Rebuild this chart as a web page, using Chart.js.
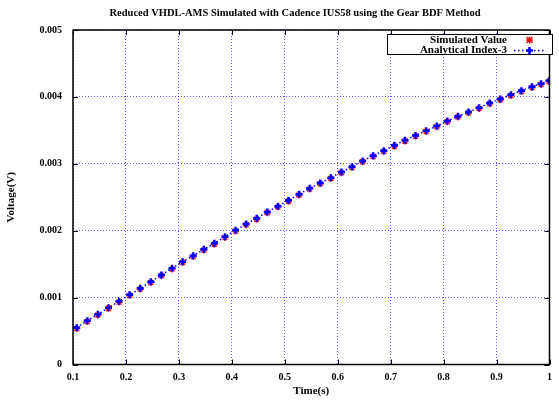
<!DOCTYPE html>
<html>
<head>
<meta charset="utf-8">
<script src="https://cdn.jsdelivr.net/npm/chart.js@4.4.0/dist/chart.umd.min.js"></script>
<style>
  html, body { margin: 0; padding: 0; background: #fff; }
  #wrap { width: 559px; height: 400px; }
</style>
</head>
<body>
<div id="wrap"><canvas id="voltageChart" width="559" height="400"></canvas></div>
<script>
// Data
const timeValues = [
  0.107, 0.127, 0.147, 0.167, 0.187, 0.207, 0.227, 0.247, 0.267, 0.287,
  0.307, 0.327, 0.347, 0.367, 0.387, 0.407, 0.427, 0.447, 0.467, 0.487,
  0.507, 0.527, 0.547, 0.567, 0.587, 0.607, 0.627, 0.647, 0.667, 0.687,
  0.707, 0.727, 0.747, 0.767, 0.787, 0.807, 0.827, 0.847, 0.867, 0.887,
  0.907, 0.927, 0.947, 0.967, 0.984, 0.999
];
const analyticalValues = [
  0.000550, 0.000655, 0.000750, 0.000849, 0.000945, 0.001043, 0.001139, 0.001238, 0.001338, 0.001438,
  0.001537, 0.001626, 0.001722, 0.001811, 0.001910, 0.002006, 0.002100, 0.002185, 0.002280, 0.002365,
  0.002454, 0.002544, 0.002634, 0.002713, 0.002793, 0.002877, 0.002957, 0.003042, 0.003121, 0.003196,
  0.003276, 0.003351, 0.003424, 0.003495, 0.003565, 0.003640, 0.003710, 0.003774, 0.003839, 0.003909,
  0.003969, 0.004033, 0.004093, 0.004153, 0.004197, 0.004242
];
const simulatedValues = [
  0.000538, 0.000643, 0.000739, 0.000837, 0.000933, 0.001031, 0.001127, 0.001226, 0.001326, 0.001426,
  0.001525, 0.001614, 0.001710, 0.001799, 0.001898, 0.001994, 0.002088, 0.002173, 0.002268, 0.002353,
  0.002442, 0.002532, 0.002622, 0.002701, 0.002781, 0.002865, 0.002945, 0.003030, 0.003109, 0.003184,
  0.003264, 0.003339, 0.003412, 0.003483, 0.003553, 0.003628, 0.003698, 0.003762, 0.003827, 0.003897,
  0.003957, 0.004021, 0.004081, 0.004141, 0.004185, 0.004230
];
const xTicks = [0.1, 0.2, 0.3, 0.4, 0.5, 0.6, 0.7, 0.8, 0.9, 1.0];
const xTickLabels = ['0.1', '0.2', '0.3', '0.4', '0.5', '0.6', '0.7', '0.8', '0.9', '1'];
const yTicks = [0, 0.001, 0.002, 0.003, 0.004, 0.005];
const yTickLabels = ['0', '0.001', '0.002', '0.003', '0.004', '0.005'];
const seriesNames = ['Simulated Value', 'Analytical Index-3'];
const titleText = 'Reduced VHDL-AMS Simulated with Cadence IUS58 using the Gear BDF Method';

const FONT = '"Liberation Serif", "Times New Roman", serif';
const GRID_BLUE = '#5a5aff';

// Frame, inward ticks, title and legend drawn in gnuplot style
const gnuplotDecor = {
    id: 'gnuplotDecor',
    afterDatasetsDraw(chart) {
        const { ctx, chartArea: a, scales } = chart;
        ctx.save();

        // inward tick marks on all four sides
        ctx.strokeStyle = '#000';
        ctx.lineWidth = 1;
        ctx.beginPath();
        xTicks.forEach(v => {
            const px = Math.round(scales.x.getPixelForValue(v)) + 0.5;
            ctx.moveTo(px, a.bottom); ctx.lineTo(px, a.bottom - 5);
            ctx.moveTo(px, a.top); ctx.lineTo(px, a.top + 5);
        });
        yTicks.forEach(v => {
            const py = Math.round(scales.y.getPixelForValue(v)) + 0.5;
            ctx.moveTo(a.left, py); ctx.lineTo(a.left + 5, py);
            ctx.moveTo(a.right, py); ctx.lineTo(a.right - 5, py);
        });
        ctx.stroke();

        // frame
        ctx.lineWidth = 1.5;
        ctx.strokeRect(a.left, a.top, a.right - a.left, a.bottom - a.top);

        // legend box
        ctx.fillStyle = '#fff';
        ctx.fillRect(387, 34, 166, 21);
        ctx.lineWidth = 1;
        ctx.strokeStyle = '#000';
        ctx.strokeRect(387.5, 34.5, 165, 20);

        ctx.fillStyle = '#000';
        ctx.font = 'bold 11px ' + FONT;
        ctx.textAlign = 'right';
        ctx.textBaseline = 'middle';
        ctx.fillText(seriesNames[0], 507, 40);
        ctx.fillText(seriesNames[1], 507, 50);

        // legend sample: red star
        ctx.strokeStyle = '#ff0000';
        ctx.lineWidth = 1.5;
        ctx.beginPath();
        ctx.moveTo(526.5, 37); ctx.lineTo(532.5, 43);
        ctx.moveTo(532.5, 37); ctx.lineTo(526.5, 43);
        ctx.moveTo(529.5, 36.5); ctx.lineTo(529.5, 43.5);
        ctx.moveTo(526, 40); ctx.lineTo(533, 40);
        ctx.stroke();

        // legend sample: blue dotted line with plus
        ctx.strokeStyle = '#0000ff';
        ctx.lineWidth = 1.5;
        ctx.setLineDash([1.5, 2.5]);
        ctx.beginPath();
        ctx.moveTo(514, 50.5); ctx.lineTo(544, 50.5);
        ctx.stroke();
        ctx.setLineDash([]);
        ctx.lineWidth = 2.5;
        ctx.beginPath();
        ctx.moveTo(529.5, 47); ctx.lineTo(529.5, 54);
        ctx.moveTo(526, 50.5); ctx.lineTo(533, 50.5);
        ctx.stroke();

        // title
        ctx.fillStyle = '#000';
        ctx.font = 'bold 10.5px ' + FONT;
        ctx.textAlign = 'center';
        ctx.fillText(titleText, 295, 13);

        ctx.restore();
    }
};

function createVoltageChart() {
    const ctx = document.getElementById('voltageChart').getContext('2d');

    const simulatedPoints = timeValues.map((t, i) => ({ x: t, y: simulatedValues[i] }));
    const analyticalPoints = timeValues.map((t, i) => ({ x: t, y: analyticalValues[i] }));

    window.voltageChart = new Chart(ctx, {
        type: 'scatter',
        data: {
            datasets: [{
                label: seriesNames[0],
                data: simulatedPoints,
                showLine: false,
                pointStyle: 'star',
                pointRadius: 3.5,
                pointBorderWidth: 1.5,
                borderColor: '#ff2020',
                backgroundColor: '#ff2020',
                order: 2
            }, {
                label: seriesNames[1],
                data: analyticalPoints,
                showLine: true,
                borderColor: '#0000ff',
                borderWidth: 1.5,
                borderDash: [1.5, 2.5],
                pointStyle: 'cross',
                pointRadius: 3.5,
                pointBorderWidth: 2.5,
                pointBorderColor: '#0000ff',
                backgroundColor: '#0000ff',
                order: 1
            }]
        },
        options: {
            responsive: false,
            animation: false,
            events: [],
            layout: { padding: { top: 30, right: 1, left: 0, bottom: 0 } },
            scales: {
                x: {
                    type: 'linear',
                    min: 0.1,
                    max: 1.0,
                    afterBuildTicks: scale => { scale.ticks = xTicks.map(v => ({ value: v })); },
                    afterFit: scale => { scale.height = 35.5; },
                    ticks: {
                        autoSkip: false,
                        maxRotation: 0,
                        padding: 7,
                        color: '#000',
                        font: { family: FONT, size: 10, weight: 'bold' },
                        callback: (value, index) => xTickLabels[index]
                    },
                    grid: {
                        color: GRID_BLUE,
                        lineWidth: 1,
                        drawTicks: false
                    },
                    border: { display: false, dash: [1, 2] },
                    title: {
                        display: true,
                        text: 'Time(s)',
                        color: '#000',
                        font: { family: FONT, size: 11, weight: 'bold' },
                        padding: { top: 0, bottom: 2 }
                    }
                },
                y: {
                    type: 'linear',
                    min: 0,
                    max: 0.005,
                    afterBuildTicks: scale => { scale.ticks = yTicks.map(v => ({ value: v })); },
                    afterFit: scale => { scale.width = 73; },
                    ticks: {
                        padding: 11,
                        color: '#000',
                        font: { family: FONT, size: 10, weight: 'bold' },
                        callback: (value, index) => yTickLabels[index]
                    },
                    grid: {
                        color: GRID_BLUE,
                        lineWidth: 1,
                        drawTicks: false
                    },
                    border: { display: false, dash: [1, 2] },
                    title: {
                        display: true,
                        text: 'Voltage(V)',
                        color: '#000',
                        font: { family: FONT, size: 11, weight: 'bold' },
                        padding: { top: 5, bottom: 0 }
                    }
                }
            },
            plugins: {
                legend: { display: false },
                title: { display: false },
                tooltip: { enabled: false }
            }
        },
        plugins: [gnuplotDecor]
    });
}

document.addEventListener('DOMContentLoaded', createVoltageChart);
</script>
</body>
</html>
